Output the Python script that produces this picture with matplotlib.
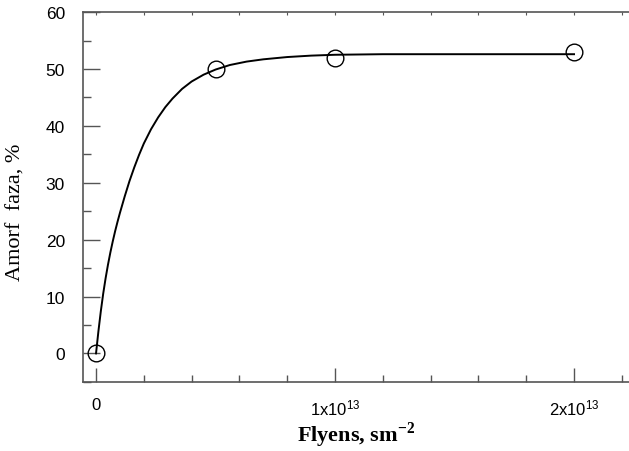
import matplotlib
matplotlib.use('Agg')
import matplotlib.pyplot as plt
from matplotlib.ticker import MultipleLocator, FixedLocator

# measured points (fluence, 1e13 units; amorphous phase, %)
fluence = [0.0, 0.5, 1.0, 2.0]
amorph = [0.0, 50.0, 52.0, 53.0]

# fitted curve
curve_x = [0.0, 0.01, 0.02, 0.03, 0.04, 0.05, 0.06, 0.07, 0.08, 0.09, 0.10,
           0.12, 0.14, 0.16, 0.18, 0.20, 0.23, 0.26, 0.29, 0.32, 0.36, 0.40,
           0.45, 0.50, 0.56, 0.63, 0.70, 0.80, 0.90, 1.0, 1.2, 1.5, 2.0]
curve_y = [0.0, 3.9, 7.4, 10.5, 13.2, 15.6, 17.75, 19.7, 21.5, 23.15, 24.7,
           27.6, 30.3, 32.7, 34.9, 36.9, 39.4, 41.5, 43.3, 44.8, 46.5, 47.8,
           49.0, 49.9, 50.7, 51.3, 51.7, 52.1, 52.35, 52.5, 52.6, 52.6, 52.6]

xticks = [0.0, 1.0, 2.0]
xticklabels = ['0', r'1x10$^{13}$', r'2x10$^{13}$']
yticks = [0, 10, 20, 30, 40, 50, 60]

plt.rcParams['mathtext.fontset'] = 'custom'
plt.rcParams['mathtext.rm'] = 'Liberation Sans'
plt.rcParams['mathtext.bf'] = 'Liberation Serif:bold'
plt.rcParams['mathtext.default'] = 'rm'

fig = plt.figure(figsize=(6.29, 4.52), dpi=100)
ax = fig.add_axes([0.132, 0.153, 0.868, 0.818])

ax.plot(curve_x, curve_y, color='black', lw=1.4, zorder=2)
ax.plot(fluence, amorph, 'o', ms=12, mfc='none', mec='black', mew=1.0, zorder=3)

ax.set_xlim(-0.0544, 2.23)
ax.set_ylim(-5, 60)

spine_col = '#555555'
for s in ['left', 'bottom', 'top']:
    ax.spines[s].set_color(spine_col)
    ax.spines[s].set_linewidth(1.2)
ax.spines['right'].set_visible(False)

ax.xaxis.set_major_locator(FixedLocator(xticks))
ax.set_xticklabels(xticklabels)
ax.xaxis.set_minor_locator(MultipleLocator(0.2))
ax.set_yticks(yticks)
ax.yaxis.set_minor_locator(MultipleLocator(5))

ax.tick_params(axis='x', which='major', direction='in', length=10, width=1,
               color=spine_col, pad=11, labelsize=12, top=False)
ax.tick_params(axis='x', which='minor', direction='in', length=5, width=1,
               color=spine_col, top=False)
ax.tick_params(axis='y', which='major', direction='in', length=12, width=1,
               color=spine_col, pad=13, labelsize=12.5, right=False)
ax.tick_params(axis='y', which='minor', direction='in', length=6, width=1,
               color=spine_col, right=False)
for lab in ax.get_xticklabels() + ax.get_yticklabels():
    lab.set_fontfamily('Liberation Sans')

top = ax.secondary_xaxis('top')
top.xaxis.set_major_locator(MultipleLocator(0.2))
top.tick_params(direction='in', length=2, width=0.8, color=spine_col, labeltop=False)
top.spines['top'].set_visible(False)

ax.set_xlabel(r'Flyens, sm$^{\mathbf{-2}}$', fontfamily='Liberation Serif',
              fontweight='bold', fontsize=16, labelpad=2)
ax.set_ylabel('Amorf  faza, %', fontfamily='Liberation Serif', fontsize=16)
ax.yaxis.set_label_coords(-0.105, 0.46)

plt.savefig('out.png', dpi=100)
